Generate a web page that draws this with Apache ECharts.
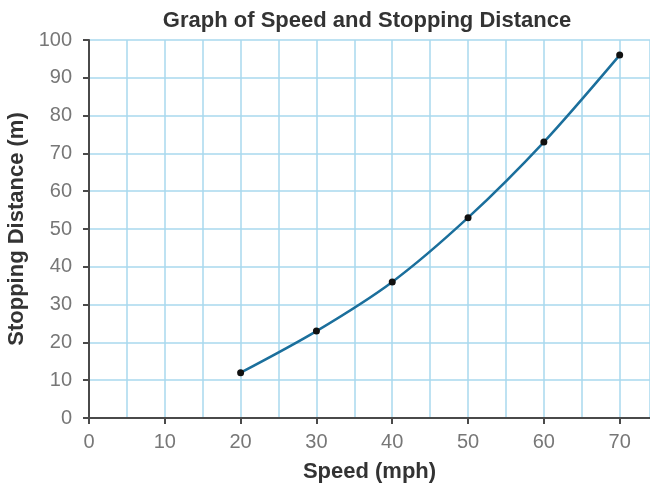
<!DOCTYPE html>
<html>
<head>
<meta charset="utf-8">
<script src="https://cdn.jsdelivr.net/npm/echarts@6/dist/echarts.min.js"></script>
<style>
  html, body { margin: 0; padding: 0; background: #ffffff; }
  #chart { width: 650px; height: 485px; }
</style>
</head>
<body>
<div id="chart"></div>
<script>
// Speed (mph) against stopping distance (m)
const speeds = [20, 30, 40, 50, 60, 70];
const distances = [12, 23, 36, 53, 73, 96];
const xTicks = [0, 10, 20, 30, 40, 50, 60, 70];
const yTicks = [0, 10, 20, 30, 40, 50, 60, 70, 80, 90, 100];

const points = speeds.map((s, i) => [s, distances[i]]);

const font = '"Liberation Sans", Arial, Helvetica, sans-serif';
const gridBlue = '#a9d9ee';
const axisDark = '#4a4a4a';

const chart = echarts.init(document.getElementById('chart'), null, { renderer: 'canvas' });
chart.setOption({
  backgroundColor: '#ffffff',
  animation: false,
  title: {
    text: 'Graph of Speed and Stopping Distance',
    left: 362,
    top: 5,
    textAlign: 'center',
    textStyle: { fontFamily: font, fontSize: 22, fontWeight: 'bold', color: '#333333' }
  },
  grid: { left: 89, right: 0, top: 40, bottom: 67, containLabel: false, outerBoundsMode: 'none' },
  xAxis: {
    type: 'value',
    min: 0,
    max: 74,
    interval: 10,
    name: 'Speed (mph)',
    nameLocation: 'middle',
    nameGap: 43,
    nameTextStyle: { fontFamily: font, fontSize: 22, fontWeight: 'bold', color: '#333333' },
    axisLine: { show: true, lineStyle: { color: axisDark, width: 2 } },
    axisTick: { show: true, length: 6, lineStyle: { color: axisDark, width: 2 } },
    axisLabel: {
      fontFamily: font, fontSize: 20, color: '#777777', margin: 14,
      showMaxLabel: false,
      formatter: v => (xTicks.indexOf(v) >= 0 ? String(v) : '')
    },
    splitLine: { show: true, lineStyle: { color: gridBlue, width: 1.5 } },
    minorTick: { show: false, splitNumber: 2 },
    minorSplitLine: { show: true, lineStyle: { color: gridBlue, width: 1.5 } }
  },
  yAxis: {
    type: 'value',
    min: 0,
    max: 100,
    interval: 10,
    name: 'Stopping Distance (m)',
    nameLocation: 'middle',
    nameGap: 58,
    nameTextStyle: { fontFamily: font, fontSize: 22, fontWeight: 'bold', color: '#333333' },
    axisLine: { show: true, lineStyle: { color: axisDark, width: 2 } },
    axisTick: { show: true, length: 6, lineStyle: { color: axisDark, width: 2 } },
    axisLabel: {
      fontFamily: font, fontSize: 20, color: '#777777', margin: 17,
      formatter: v => (yTicks.indexOf(v) >= 0 ? String(v) : '')
    },
    splitLine: { show: true, lineStyle: { color: gridBlue, width: 1.5 } }
  },
  series: [{
    type: 'line',
    data: points,
    smooth: 0.3,
    symbol: 'circle',
    symbolSize: 7,
    itemStyle: { color: '#111111' },
    lineStyle: { color: '#1b6f9c', width: 2.5 },
    z: 5
  }]
});
</script>
</body>
</html>
